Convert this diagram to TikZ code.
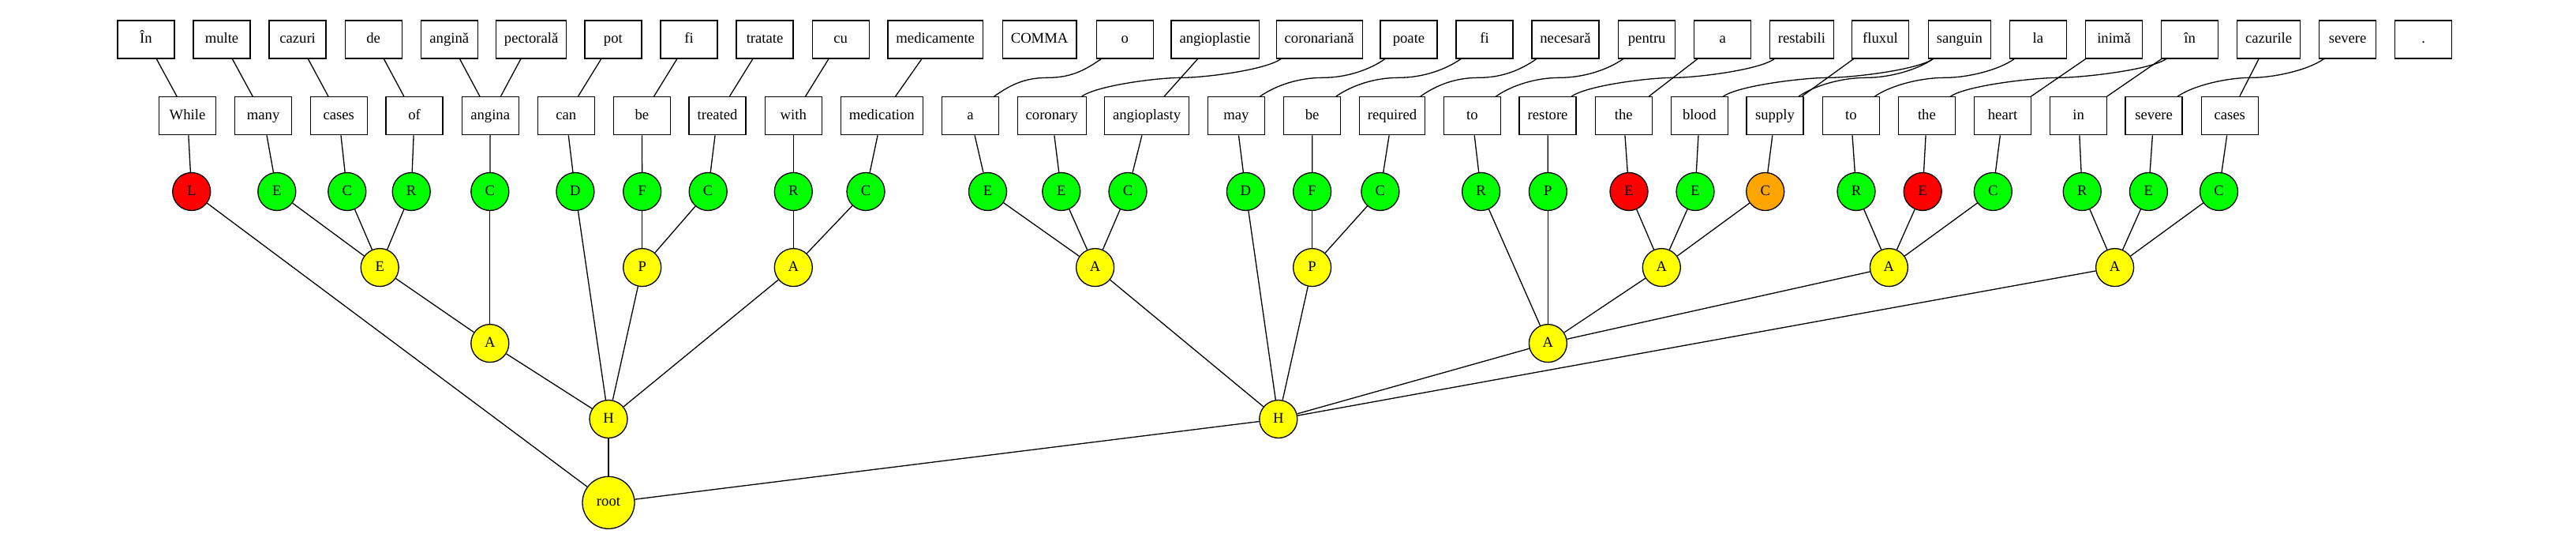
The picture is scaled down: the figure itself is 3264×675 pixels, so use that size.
\documentclass[tikz,border=0pt]{standalone}
\usepackage{fontspec}
\setmainfont{Liberation Serif}
\usetikzlibrary{calc}
\definecolor{gvgreen}{HTML}{00FF00}
\definecolor{gvred}{HTML}{FF0000}
\definecolor{gvyellow}{HTML}{FFFF00}
\definecolor{gvorange}{HTML}{FFA500}
\tikzset{
  lbl/.style={font=\fontsize{9.33pt}{11pt}\selectfont, text height=6.4pt, text depth=1.9pt},
  word/.style={lbl, draw, line width=0.65pt, minimum width=36pt, minimum height=24pt, inner xsep=5.25pt, inner ysep=0pt},
  tag/.style={lbl, circle, draw, line width=0.65pt, minimum size=24pt, inner sep=0pt},
  gr/.style={tag, fill=gvgreen},
  rd/.style={tag, fill=gvred},
  og/.style={tag, fill=gvorange},
  yl/.style={tag, fill=gvyellow},
  rootnode/.style={yl, minimum size=33pt},
  link/.style={line width=0.65pt}
}
\newcommand\alnbend[2]{%
  \path ($(#1.south west)+(6.5,0)$) coordinate (bs) ($(#2.north east)+(-6.5,0)$) coordinate (bt);
  \path ($(bs)!0.5!(bt)$) coordinate (bm);
  \draw[link] (bs) .. controls ($(bs)+(-20,14)$) and ($(bm)+(30,0)$) .. (bm) .. controls ($(bm)+(-30,0)$) and ($(bt)+(20,-14)$) .. (bt);
}
\begin{document}
\begin{tikzpicture}[x=0.5pt, y=-0.5pt]
\useasboundingbox[fill=white] (0,0) rectangle (3264,675);
% Romanian words
\node[word] (r1) at (184.9,50) {În};
\node[word] (r2) at (281.0,50) {multe};
\node[word] (r3) at (377.1,50) {cazuri};
\node[word] (r4) at (473.2,50) {de};
\node[word] (r5) at (569.3,50) {angină};
\node[word] (r6) at (673.1,50) {pectorală};
\node[word] (r7) at (776.9,50) {pot};
\node[word] (r8) at (873.0,50) {fi};
\node[word] (r9) at (969.1,50) {tratate};
\node[word] (r10) at (1065.2,50) {cu};
\node[word] (r11) at (1185.2,50) {medicamente};
\node[word] (r12) at (1317.1,50) {COMMA};
\node[word] (r13) at (1425.3,50) {o};
\node[word] (r14) at (1539.6,50) {angioplastie};
\node[word] (r15) at (1671.7,50) {coronariană};
\node[word] (r16) at (1785.0,50) {poate};
\node[word] (r17) at (1881.1,50) {fi};
\node[word] (r18) at (1983.5,50) {necesară};
\node[word] (r19) at (2086.7,50) {pentru};
\node[word] (r20) at (2182.8,50) {a};
\node[word] (r21) at (2282.9,50) {restabili};
\node[word] (r22) at (2382.5,50) {fluxul};
\node[word] (r23) at (2482.8,50) {sanguin};
\node[word] (r24) at (2582.4,50) {la};
\node[word] (r25) at (2678.5,50) {inimă};
\node[word] (r26) at (2774.7,50) {în};
\node[word] (r27) at (2874.6,50) {cazurile};
\node[word] (r28) at (2974.6,50) {severe};
\node[word] (r29) at (3070.7,50) {.};
% English words
\node[word] (e1) at (237.5,146.7) {While};
\node[word] (e2) at (333.6,146.7) {many};
\node[word] (e3) at (429.3,146.7) {cases};
\node[word] (e4) at (525.1,146.7) {of};
\node[word] (e5) at (621.2,146.7) {angina};
\node[word] (e6) at (717.3,146.7) {can};
\node[word] (e7) at (813.4,146.7) {be};
\node[word] (e8) at (909.1,146.7) {treated};
\node[word] (e9) at (1005.3,146.7) {with};
\node[word] (e10) at (1117.3,146.7) {medication};
\node[word] (e11) at (1229.4,146.7) {a};
\node[word] (e12) at (1332.8,146.7) {coronary};
\node[word] (e13) at (1453.1,146.7) {angioplasty};
\node[word] (e14) at (1566.4,146.7) {may};
\node[word] (e15) at (1662.7,146.7) {be};
\node[word] (e16) at (1764.0,146.7) {required};
\node[word] (e17) at (1865.3,146.7) {to};
\node[word] (e18) at (1961.1,146.7) {restore};
\node[word] (e19) at (2057.2,146.7) {the};
\node[word] (e20) at (2153.3,146.7) {blood};
\node[word] (e21) at (2249.0,146.7) {supply};
\node[word] (e22) at (2345.3,146.7) {to};
\node[word] (e23) at (2441.4,146.7) {the};
\node[word] (e24) at (2537.5,146.7) {heart};
\node[word] (e25) at (2633.7,146.7) {in};
\node[word] (e26) at (2729.1,146.7) {severe};
\node[word] (e27) at (2825.2,146.7) {cases};
% leaf tags
\node[rd] (c1) at (242.7,242.5) {L};
\node[gr] (c2) at (350.8,242.5) {E};
\node[gr] (c3) at (439.8,242.5) {C};
\node[gr] (c4) at (521.2,242.5) {R};
\node[gr] (c5) at (620.8,242.5) {C};
\node[gr] (c6) at (728.9,242.5) {D};
\node[gr] (c7) at (813.7,242.5) {F};
\node[gr] (c8) at (897.2,242.5) {C};
\node[gr] (c9) at (1005.3,242.5) {R};
\node[gr] (c10) at (1097.0,242.5) {C};
\node[gr] (c11) at (1251.5,242.5) {E};
\node[gr] (c12) at (1344.8,242.5) {E};
\node[gr] (c13) at (1429.0,242.5) {C};
\node[gr] (c14) at (1578.4,242.5) {D};
\node[gr] (c15) at (1662.6,242.5) {F};
\node[gr] (c16) at (1748.9,242.5) {C};
\node[gr] (c17) at (1876.6,242.5) {R};
\node[gr] (c18) at (1961.4,242.5) {P};
\node[rd] (c19) at (2064.0,242.5) {E};
\node[gr] (c20) at (2148.0,242.5) {E};
\node[og] (c21) at (2236.7,242.5) {C};
\node[gr] (c22) at (2352.0,242.5) {R};
\node[rd] (c23) at (2436.2,242.5) {E};
\node[gr] (c24) at (2525.3,242.5) {C};
\node[gr] (c25) at (2638.2,242.5) {R};
\node[gr] (c26) at (2722.4,242.5) {E};
\node[gr] (c27) at (2811.5,242.5) {C};
% inner nodes
\node[yl] (ne) at (481.2,338.6) {E};
\node[yl] (np1) at (813.7,338.6) {P};
\node[yl] (na1) at (1005.3,338.6) {A};
\node[yl] (na2) at (1387.6,338.6) {A};
\node[yl] (np2) at (1662.6,338.6) {P};
\node[yl] (na3) at (2105.3,338.6) {A};
\node[yl] (na4) at (2393.4,338.6) {A};
\node[yl] (na5) at (2679.6,338.6) {A};
\node[yl] (na0) at (620.8,434.6) {A};
\node[yl] (na6) at (1961.4,434.6) {A};
\node[yl] (nh1) at (771.0,530.5) {H};
\node[yl] (nh2) at (1619.8,530.5) {H};
\node[rootnode] (nroot) at (771.0,636.3) {root};
% tree edges
\draw[link] (nroot) -- (c1);
\draw[link] (nroot) -- (nh1);
\draw[link] (nroot) -- (nh2);
\draw[link] (nh1) -- (na0);
\draw[link] (nh1) -- (c6);
\draw[link] (nh1) -- (np1);
\draw[link] (nh1) -- (na1);
\draw[link] (na0) -- (ne);
\draw[link] (na0) -- (c5);
\draw[link] (ne) -- (c2);
\draw[link] (ne) -- (c3);
\draw[link] (ne) -- (c4);
\draw[link] (np1) -- (c7);
\draw[link] (np1) -- (c8);
\draw[link] (na1) -- (c9);
\draw[link] (na1) -- (c10);
\draw[link] (nh2) -- (na2);
\draw[link] (nh2) -- (c14);
\draw[link] (nh2) -- (np2);
\draw[link] (nh2) -- (na6);
\draw[link] (nh2) -- (na5);
\draw[link] (na2) -- (c11);
\draw[link] (na2) -- (c12);
\draw[link] (na2) -- (c13);
\draw[link] (np2) -- (c15);
\draw[link] (np2) -- (c16);
\draw[link] (na6) -- (c17);
\draw[link] (na6) -- (c18);
\draw[link] (na6) -- (na3);
\draw[link] (na6) -- (na4);
\draw[link] (na3) -- (c19);
\draw[link] (na3) -- (c20);
\draw[link] (na3) -- (c21);
\draw[link] (na4) -- (c22);
\draw[link] (na4) -- (c23);
\draw[link] (na4) -- (c24);
\draw[link] (na5) -- (c25);
\draw[link] (na5) -- (c26);
\draw[link] (na5) -- (c27);
% leaf to word
\foreach \i in {1,...,27} { \draw[link] (c\i) -- (e\i); }
% alignment edges (straight)
\draw[link] (r1) -- (e1);
\draw[link] (r2) -- (e2);
\draw[link] (r3) -- (e3);
\draw[link] (r4) -- (e4);
\draw[link] (r5) -- (e5);
\draw[link] (r6) -- (e5);
\draw[link] (r7) -- (e6);
\draw[link] (r8) -- (e7);
\draw[link] (r9) -- (e8);
\draw[link] (r10) -- (e9);
\draw[link] (r11) -- (e10);
\draw[link] (r14) -- (e13);
\draw[link] (r20) -- (e19);
\draw[link] (r22) -- (e21);
\draw[link] (r25) -- (e24);
\draw[link] (r26) -- (e25);
\draw[link] (r27) -- (e27);
% alignment edges (curved)
\alnbend{r13}{e11}
\alnbend{r15}{e12}
\alnbend{r16}{e14}
\alnbend{r17}{e15}
\alnbend{r18}{e16}
\alnbend{r19}{e17}
\alnbend{r21}{e18}
\alnbend{r23}{e20}
\alnbend{r23}{e21}
\alnbend{r24}{e22}
\alnbend{r26}{e23}
\alnbend{r28}{e26}
\end{tikzpicture}
\end{document}
